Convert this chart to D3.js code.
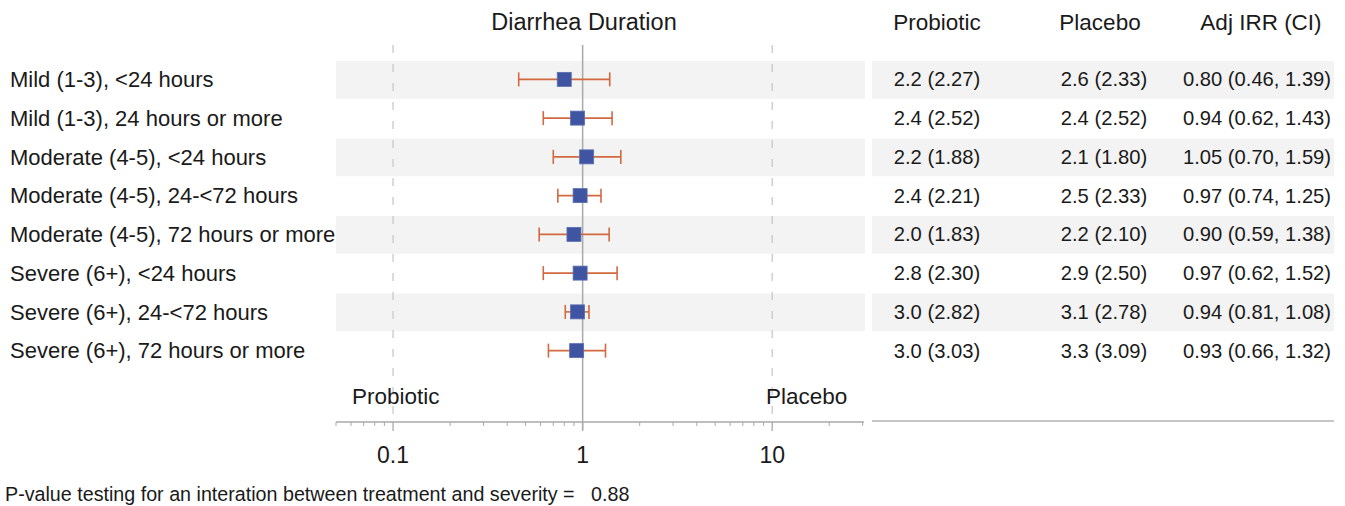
<!DOCTYPE html>
<html>
<head>
<meta charset="utf-8">
<script src="https://cdn.jsdelivr.net/npm/d3@7"></script>
<style>
  body { margin: 0; background: #fff; }
  svg text { font-family: "Liberation Sans", Arial, sans-serif; fill: #1a1a1a; }
</style>
</head>
<body>
<div id="chart"></div>
<script>
const labels = [
  "Mild (1-3), <24 hours",
  "Mild (1-3), 24 hours or more",
  "Moderate (4-5), <24 hours",
  "Moderate (4-5), 24-<72 hours",
  "Moderate (4-5), 72 hours or more",
  "Severe (6+), <24 hours",
  "Severe (6+), 24-<72 hours",
  "Severe (6+), 72 hours or more"
];
const probiotic = ["2.2 (2.27)", "2.4 (2.52)", "2.2 (1.88)", "2.4 (2.21)", "2.0 (1.83)", "2.8 (2.30)", "3.0 (2.82)", "3.0 (3.03)"];
const placebo = ["2.6 (2.33)", "2.4 (2.52)", "2.1 (1.80)", "2.5 (2.33)", "2.2 (2.10)", "2.9 (2.50)", "3.1 (2.78)", "3.3 (3.09)"];
const irr = [0.80, 0.94, 1.05, 0.97, 0.90, 0.97, 0.94, 0.93];
const lower = [0.46, 0.62, 0.70, 0.74, 0.59, 0.62, 0.81, 0.66];
const upper = [1.39, 1.43, 1.59, 1.25, 1.38, 1.52, 1.08, 1.32];
const headers = ["Probiotic", "Placebo", "Adj IRR (CI)"];
const majorTicks = [0.1, 1, 10];
const minorTicks = [0.05, 0.06, 0.07, 0.08, 0.09, 0.2, 0.3, 0.4, 0.5, 0.6, 0.7, 0.8, 0.9,
  2, 3, 4, 5, 6, 7, 8, 9, 20, 30];
const pValue = "0.88";

const width = 1345, height = 506;
const svg = d3.select("#chart").append("svg")
  .attr("width", width)
  .attr("height", height);

const x = d3.scaleLog().domain([0.05, 30.5]).range([336, 864]);
const y = d3.scaleBand().domain(labels).range([60, 370]);

const tableLeft = 872, tableRight = 1334;
const headCenters = [937, 1100, 1261];
const colCenters = [937, 1104, 1257];
const axisY = 422;

const rows = labels.map((l, i) => ({
  label: l, probiotic: probiotic[i], placebo: placebo[i],
  irr: irr[i], lo: lower[i], hi: upper[i],
  ci: `${irr[i].toFixed(2)} (${lower[i].toFixed(2)}, ${upper[i].toFixed(2)})`
}));

// shaded bands on every other row
svg.selectAll("rect.band")
  .data(rows.filter((d, i) => i % 2 === 0))
  .join("rect")
  .attr("class", "band")
  .attr("x", x.range()[0])
  .attr("width", x.range()[1] - x.range()[0] + 1)
  .attr("y", d => y(d.label) + 1)
  .attr("height", y.bandwidth() - 1)
  .attr("fill", "#f3f3f3");

svg.selectAll("rect.tband")
  .data(rows.filter((d, i) => i % 2 === 0))
  .join("rect")
  .attr("class", "tband")
  .attr("x", tableLeft)
  .attr("width", tableRight - tableLeft)
  .attr("y", d => y(d.label) + 1)
  .attr("height", y.bandwidth() - 1)
  .attr("fill", "#f3f3f3");

// reference lines
svg.selectAll("line.ref")
  .data([0.1, 10])
  .join("line")
  .attr("x1", d => x(d)).attr("x2", d => x(d))
  .attr("y1", 45).attr("y2", axisY)
  .attr("stroke", "#c9c9c9")
  .attr("stroke-width", 1.3)
  .attr("stroke-dasharray", "8,11");

svg.append("line")
  .attr("x1", x(1)).attr("x2", x(1))
  .attr("y1", 45).attr("y2", axisY + 8)
  .attr("stroke", "#a9a9a9")
  .attr("stroke-width", 1.5);

// axis
const axis = svg.append("g");
axis.append("line")
  .attr("x1", x.range()[0]).attr("x2", x.range()[1])
  .attr("y1", axisY).attr("y2", axisY)
  .attr("stroke", "#a9a9a9").attr("stroke-width", 1.5);
axis.selectAll("line.minor")
  .data(minorTicks)
  .join("line")
  .attr("x1", d => x(d)).attr("x2", d => x(d))
  .attr("y1", axisY).attr("y2", axisY + 4)
  .attr("stroke", "#a9a9a9");
axis.selectAll("line.major")
  .data(majorTicks)
  .join("line")
  .attr("x1", d => x(d)).attr("x2", d => x(d))
  .attr("y1", axisY).attr("y2", axisY + 9)
  .attr("stroke", "#a9a9a9").attr("stroke-width", 1.3);
axis.selectAll("text")
  .data(majorTicks)
  .join("text")
  .attr("x", d => x(d))
  .attr("y", 463)
  .attr("text-anchor", "middle")
  .attr("font-size", 23)
  .text(d => d3.format("~g")(d));

svg.append("line")
  .attr("x1", tableLeft).attr("x2", tableRight)
  .attr("y1", axisY - 1).attr("y2", axisY - 1)
  .attr("stroke", "#b3b3b3").attr("stroke-width", 1.5);

// direction labels
svg.append("text").attr("x", 352).attr("y", 404).attr("font-size", 22.5).text("Probiotic");
svg.append("text").attr("x", 766).attr("y", 404).attr("font-size", 22.5).text("Placebo");

// title and headers
svg.append("text")
  .attr("x", 584).attr("y", 30)
  .attr("text-anchor", "middle")
  .attr("font-size", 23.5)
  .text("Diarrhea Duration");

svg.selectAll("text.head")
  .data(headers)
  .join("text")
  .attr("class", "head")
  .attr("x", (d, i) => headCenters[i])
  .attr("y", 30)
  .attr("text-anchor", "middle")
  .attr("font-size", 22.5)
  .text(d => d);

// error bars and markers
const cap = 7;
const g = svg.selectAll("g.row")
  .data(rows)
  .join("g")
  .attr("class", "row")
  .attr("transform", d => `translate(0,${y(d.label) + y.bandwidth() / 2})`);

g.append("line")
  .attr("x1", d => x(d.lo)).attr("x2", d => x(d.hi))
  .attr("stroke", "#d2693f").attr("stroke-width", 1.6);
g.append("line")
  .attr("x1", d => x(d.lo)).attr("x2", d => x(d.lo))
  .attr("y1", -cap).attr("y2", cap)
  .attr("stroke", "#d2693f").attr("stroke-width", 1.6);
g.append("line")
  .attr("x1", d => x(d.hi)).attr("x2", d => x(d.hi))
  .attr("y1", -cap).attr("y2", cap)
  .attr("stroke", "#d2693f").attr("stroke-width", 1.6);
g.append("rect")
  .attr("x", d => x(d.irr) - 7)
  .attr("y", -7)
  .attr("width", 14).attr("height", 14)
  .attr("fill", "#3f55a2")
  .attr("stroke", "#5a6db0").attr("stroke-width", 0.8);

// row labels and table cells
g.append("text")
  .attr("x", 10).attr("dy", "0.35em")
  .attr("font-size", 22)
  .text(d => d.label);
g.append("text")
  .attr("x", colCenters[0]).attr("dy", "0.35em")
  .attr("text-anchor", "middle").attr("font-size", 20.2)
  .text(d => d.probiotic);
g.append("text")
  .attr("x", colCenters[1]).attr("dy", "0.35em")
  .attr("text-anchor", "middle").attr("font-size", 20.2)
  .text(d => d.placebo);
g.append("text")
  .attr("x", colCenters[2]).attr("dy", "0.35em")
  .attr("text-anchor", "middle").attr("font-size", 20.2)
  .text(d => d.ci);

// footer
svg.append("text")
  .attr("x", 5).attr("y", 501)
  .attr("font-size", 19.7)
  .attr("xml:space", "preserve")
  .text("P-value testing for an interation between treatment and severity =   " + pValue);
</script>
</body>
</html>
